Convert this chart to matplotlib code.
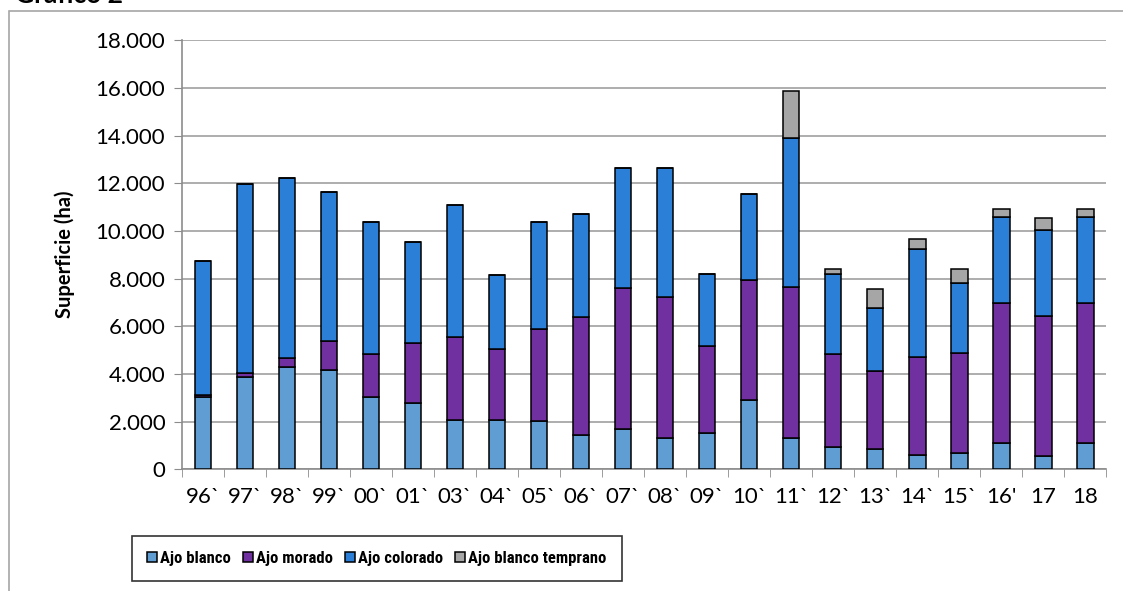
import matplotlib.pyplot as plt
import numpy as np
from matplotlib import font_manager
from matplotlib.patches import Rectangle
from matplotlib.ticker import FuncFormatter, MultipleLocator

plt.rcParams["font.family"] = ["Lato", "DejaVu Sans"]

years = ["96`", "97`", "98`", "99`", "00`", "01`", "03`", "04`", "05`", "06`", "07`",
         "08`", "09`", "10`", "11`", "12`", "13`", "14`", "15`", "16'", "17", "18"]

ajo_blanco = [3050, 3880, 4290, 4180, 3020, 2800, 2070, 2070, 2030, 1450, 1690,
              1330, 1510, 2910, 1300, 950, 850, 600, 690, 1120, 570, 1120]
ajo_morado = [50, 170, 360, 1200, 1800, 2500, 3470, 2980, 3860, 4940, 5910,
              5910, 3680, 5030, 6360, 3890, 3290, 4100, 4180, 5870, 5860, 5870]
ajo_colorado = [5650, 7900, 7580, 6250, 5560, 4230, 5550, 3100, 4470, 4330, 5050,
                5410, 3020, 3600, 6220, 3350, 2610, 4550, 2960, 3600, 3600, 3600]
ajo_temprano = [0, 0, 0, 0, 0, 0, 0, 0, 0, 0, 0,
                0, 0, 0, 2000, 220, 820, 430, 550, 340, 500, 340]

series = [
    ("Ajo blanco", ajo_blanco, "#5f9dd2"),
    ("Ajo morado", ajo_morado, "#7030a0"),
    ("Ajo colorado", ajo_colorado, "#2b7fd7"),
    ("Ajo blanco temprano", ajo_temprano, "#a6a6a6"),
]

# narrow font for the legend if one is around
fonts = font_manager.fontManager.ttflist
names = {f.name for f in fonts}
leg_prop = {"family": "Lato", "weight": "bold", "size": 11}
for n in ["Liberation Sans Narrow", "Arial Narrow", "Roboto Condensed", "Open Sans Condensed"]:
    if n in names:
        leg_prop = {"family": n, "weight": "bold", "size": 12}
        break
else:
    if any(f.name == "DejaVu Sans" and f.stretch == "condensed" for f in fonts):
        leg_prop = {"family": "DejaVu Sans", "stretch": "condensed", "weight": "bold", "size": 11}

fig = plt.figure(figsize=(11.23, 5.91), dpi=100)
ax = fig.add_axes([0.162, 0.206, 0.823, 0.726])

x = np.arange(len(years))
bottom = np.zeros(len(years))
for name, vals, col in series:
    vals = np.array(vals, dtype=float)
    ax.bar(x, vals, width=0.4, bottom=bottom, color=col, edgecolor="black",
           linewidth=1.1, label=name, zorder=3)
    bottom += vals

ax.set_xlim(-0.5, len(years) - 0.5)
ax.set_ylim(0, 18000)
ax.yaxis.set_major_locator(MultipleLocator(2000))
ax.yaxis.set_major_formatter(FuncFormatter(lambda v, p: f"{int(v):,}".replace(",", ".")))
ax.grid(axis="y", color="#a0a0a0", linewidth=1.2, zorder=0)

ax.set_xticks(x)
ax.set_xticklabels(years)
ax.set_xticks(np.arange(len(years) + 1) - 0.5, minor=True)
ax.tick_params(axis="x", which="major", length=0, pad=13, labelsize=16)
ax.tick_params(axis="x", which="minor", length=6, color="#8c8c8c", direction="out")
ax.tick_params(axis="y", length=6, color="#8c8c8c", direction="out", labelsize=16, pad=6)

for s in ["top", "right"]:
    ax.spines[s].set_visible(False)
for s in ["left", "bottom"]:
    ax.spines[s].set_color("#8c8c8c")
    ax.spines[s].set_linewidth(1.2)

ax.set_ylabel("Superficie (ha)", fontsize=14.5, fontweight="bold", labelpad=15)

leg = ax.legend(loc="upper center", bbox_to_anchor=(377 / 1123, 1 - 536 / 591),
                bbox_transform=fig.transFigure, ncol=4,
                frameon=True, fancybox=False, edgecolor="black", prop=leg_prop,
                handlelength=0.6, handleheight=0.6, handletextpad=0.2,
                columnspacing=0.7, borderpad=0.9, borderaxespad=0)
leg.get_frame().set_linewidth(1.2)

# outer chart border
fig.patches.append(Rectangle((8.5 / 1123, -0.1), 1.2, 1 - 10.5 / 591 + 0.1,
                             transform=fig.transFigure, fill=False,
                             edgecolor="#a6a6a6", linewidth=1.2))
fig.text(15 / 1123, 1 - 3 / 591, "Gráfico 2", fontsize=19, fontweight="bold",
         va="baseline", ha="left")

fig.savefig("out.png", dpi=100)
